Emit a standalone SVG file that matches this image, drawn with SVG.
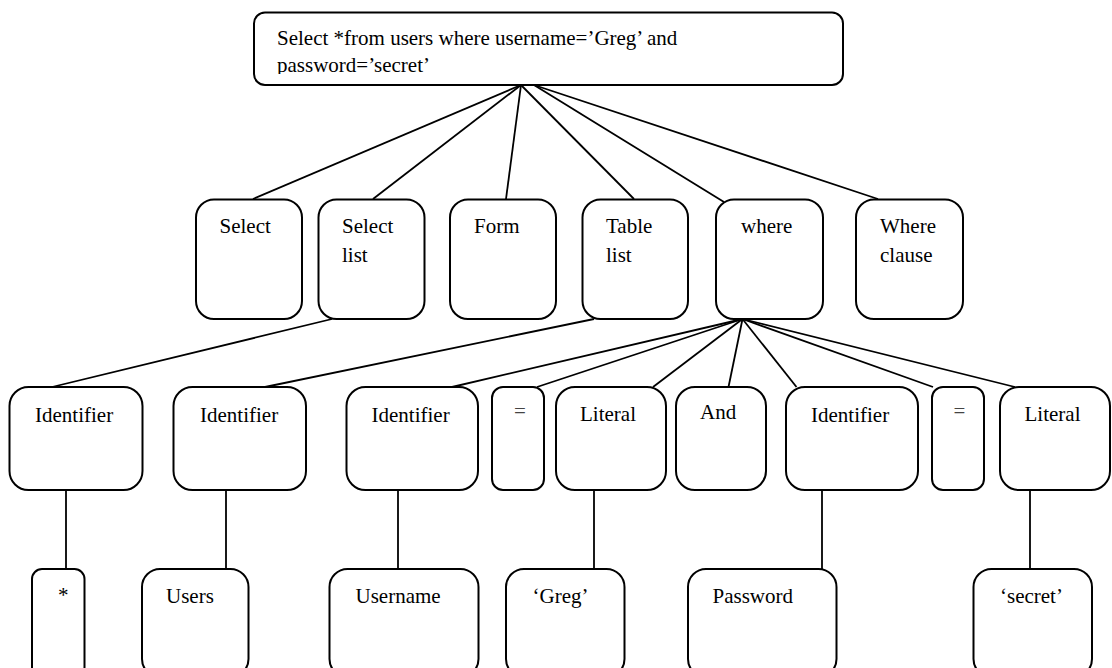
<svg xmlns="http://www.w3.org/2000/svg" width="1112" height="668" viewBox="0 0 1112 668">
<style>
  .box { fill: #ffffff; stroke: #000000; stroke-width: 2; }
  .edge { stroke: #000000; stroke-width: 1.8; fill: none; }
</style>
<defs>
  <clipPath id="topclip"><rect x="254" y="12" width="590" height="62"/></clipPath>
</defs>
<rect width="1112" height="668" fill="#ffffff"/>
<g id="connectors">
  <line class="edge" x1="521" y1="85" x2="253" y2="199"/>
  <line class="edge" x1="521" y1="85" x2="373" y2="199"/>
  <line class="edge" x1="521" y1="85" x2="506" y2="199"/>
  <line class="edge" x1="521" y1="85" x2="634" y2="199"/>
  <line class="edge" x1="534" y1="85" x2="724" y2="202"/>
  <line class="edge" x1="534" y1="85" x2="878" y2="199"/>
  <line class="edge" x1="332" y1="319" x2="52" y2="387"/>
  <line class="edge" x1="594" y1="319" x2="265" y2="387"/>
  <line class="edge" x1="742.5" y1="319" x2="452" y2="387"/>
  <line class="edge" x1="742.5" y1="319" x2="537" y2="387"/>
  <line class="edge" x1="742.5" y1="319" x2="653" y2="387"/>
  <line class="edge" x1="742.5" y1="319" x2="728.5" y2="387"/>
  <line class="edge" x1="742.5" y1="319" x2="796.5" y2="387"/>
  <line class="edge" x1="742.5" y1="319" x2="933" y2="387"/>
  <line class="edge" x1="742.5" y1="319" x2="1015" y2="387"/>
  <line class="edge" x1="66" y1="490" x2="66" y2="569"/>
  <line class="edge" x1="226" y1="490" x2="226" y2="569"/>
  <line class="edge" x1="398" y1="490" x2="398" y2="569"/>
  <line class="edge" x1="594" y1="490" x2="594" y2="569"/>
  <line class="edge" x1="822" y1="490" x2="822" y2="569"/>
  <line class="edge" x1="1030" y1="490" x2="1030" y2="569"/>
</g>
<g font-family="Liberation Serif, Times New Roman, DejaVu Serif, serif" font-size="21" fill="#000000">
<g id="n-query">
  <rect class="box" x="254" y="12.5" width="589" height="72.5" rx="11"/>
  <g clip-path="url(#topclip)">
    <text x="277" y="45">Select *from users where username=’Greg’ and</text>
    <text x="277" y="72">password=’secret’</text>
  </g>
</g>
<g id="n-select"><rect class="box" x="196" y="199.5" width="106" height="119.5" rx="18"/><text x="219.5" y="233">Select</text></g>
<g id="n-selectlist"><rect class="box" x="318.5" y="199.5" width="106" height="119.5" rx="18"/><text x="342" y="233">Select</text><text x="342" y="261.5">list</text></g>
<g id="n-form"><rect class="box" x="450" y="199.5" width="106" height="119.5" rx="18"/><text x="474" y="233">Form</text></g>
<g id="n-tablelist"><rect class="box" x="582.5" y="199.5" width="105.5" height="119.5" rx="18"/><text x="606" y="233">Table</text><text x="606" y="261.5">list</text></g>
<g id="n-where"><rect class="box" x="716" y="199.5" width="107" height="119.5" rx="18"/><text x="741" y="233">where</text></g>
<g id="n-whereclause"><rect class="box" x="856" y="199.5" width="107" height="119.5" rx="18"/><text x="880" y="233">Where</text><text x="880" y="261.5">clause</text></g>
<g id="n-ident1"><rect class="box" x="9.5" y="387" width="133" height="103" rx="19"/><text x="35" y="421.5">Identifier</text></g>
<g id="n-ident2"><rect class="box" x="173.5" y="387" width="132.5" height="103" rx="19"/><text x="200" y="421.5">Identifier</text></g>
<g id="n-ident3"><rect class="box" x="346.5" y="387" width="131.5" height="103" rx="19"/><text x="371.5" y="421.5">Identifier</text></g>
<g id="n-eq1"><rect class="box" x="492" y="387" width="52" height="103" rx="11"/><text x="514" y="418" fill="#444444">=</text></g>
<g id="n-literal1"><rect class="box" x="556" y="387" width="110" height="103" rx="19"/><text x="580" y="420.5">Literal</text></g>
<g id="n-and"><rect class="box" x="676" y="387" width="90" height="103" rx="19"/><text x="700" y="419">And</text></g>
<g id="n-ident4"><rect class="box" x="786" y="387" width="132" height="103" rx="19"/><text x="811" y="421.5">Identifier</text></g>
<g id="n-eq2"><rect class="box" x="932" y="387" width="52" height="103" rx="11"/><text x="953.5" y="418" fill="#444444">=</text></g>
<g id="n-literal2"><rect class="box" x="1000" y="387" width="110" height="103" rx="19"/><text x="1024.5" y="420.5">Literal</text></g>
<g id="n-star"><rect class="box" x="32" y="569" width="52.5" height="108" rx="10"/><text x="58" y="602">*</text></g>
<g id="n-users"><rect class="box" x="142" y="569" width="106.5" height="108" rx="18"/><text x="166" y="602.5">Users</text></g>
<g id="n-username"><rect class="box" x="329.5" y="569" width="149" height="108" rx="18"/><text x="355.5" y="602.5">Username</text></g>
<g id="n-greg"><rect class="box" x="506" y="569" width="118.5" height="108" rx="18"/><text x="532.5" y="602.5">‘Greg’</text></g>
<g id="n-password"><rect class="box" x="688" y="569" width="148.5" height="108" rx="18"/><text x="712.5" y="602.5">Password</text></g>
<g id="n-secret"><rect class="box" x="973.5" y="569" width="118.5" height="108" rx="18"/><text x="1000" y="602.5">‘secret’</text></g>
</g>
</svg>
